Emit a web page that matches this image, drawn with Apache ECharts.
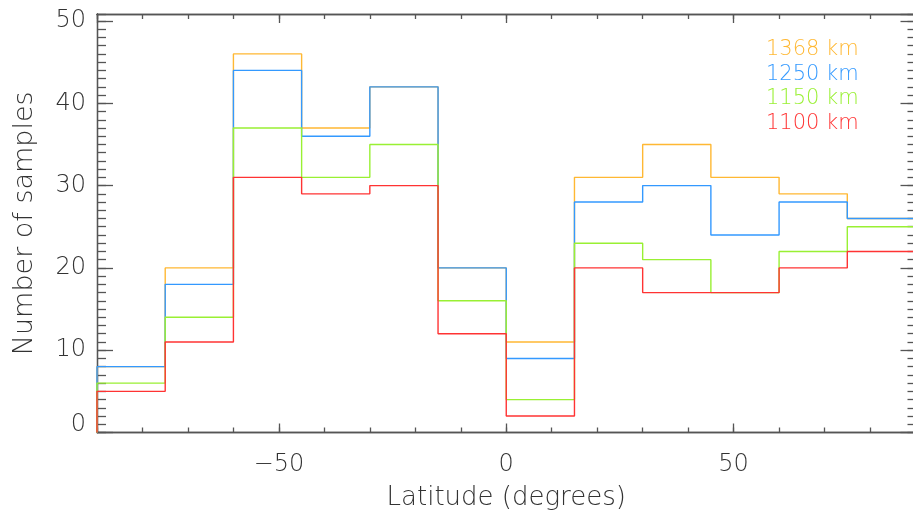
<!DOCTYPE html>
<html>
<head>
<meta charset="utf-8">
<script src="https://cdn.jsdelivr.net/npm/echarts@6/dist/echarts.min.js"></script>
<style>
html,body{margin:0;padding:0;background:#fff;}
#chart{width:913px;height:513px;}
</style>
</head>
<body>
<div id="chart"></div>
<script>
// Bin edges (latitude, degrees)
const binEdges = [-90, -75, -60, -45, -30, -15, 0, 15, 30, 45, 60, 75, 90];
// Counts per bin for each altitude
const counts1368 = [8, 20, 46, 37, 42, 20, 11, 31, 35, 31, 29, 26];
const counts1250 = [8, 18, 44, 36, 42, 20, 9, 28, 30, 24, 28, 26];
const counts1150 = [6, 14, 37, 31, 35, 16, 4, 23, 21, 17, 22, 25];
const counts1100 = [5, 11, 31, 29, 30, 12, 2, 20, 17, 17, 20, 22];
const seriesNames = ['1368 km', '1250 km', '1150 km', '1100 km'];
const seriesColors = ['#FFB833', '#3399FF', '#99F033', '#FF3333'];
// Tick steps
const xMajorStep = 50, xMinorStep = 10;
const yMajorStep = 10, yMinorStep = 1;

const allCounts = [counts1368, counts1250, counts1150, counts1100];

function stepData(counts) {
  const d = [[binEdges[0], 0]];
  for (let i = 0; i < counts.length; i++) d.push([binEdges[i], counts[i]]);
  d.push([binEdges[binEdges.length - 1], counts[counts.length - 1]]);
  d.push([binEdges[binEdges.length - 1], 0]);
  return d;
}

const FONT = 'DejaVu Sans';
const TXT = '#333';
const AX = '#555';
const XMIN = -90, XMAX = 90, YMIN = 0, YMAX = 50.85;

function xAxisCfg(pos, major, showLabel, tickLen) {
  const a = {
    type: 'value', position: pos, min: XMIN, max: XMAX,
    axisLine: {show: true, onZero: false, lineStyle: {color: AX, width: 1.3}},
    axisTick: {show: true, inside: true, length: tickLen, lineStyle: {color: AX, width: 1.3}},
    axisLabel: {show: showLabel, margin: 20, fontFamily: FONT, fontWeight: 200,
      fontSize: 24, color: TXT, showMinLabel: false, showMaxLabel: false,
      formatter: v => String(v).replace('-', '\u2212')},
    splitLine: {show: false}
  };
  if (major) { a.minInterval = xMajorStep; a.maxInterval = xMajorStep; a.splitNumber = 4; }
  else { a.interval = xMinorStep; }
  return a;
}
function yAxisCfg(pos, major, showLabel, tickLen) {
  return {
    type: 'value', position: pos, min: YMIN, max: YMAX,
    interval: major ? yMajorStep : yMinorStep,
    axisLine: {show: true, onZero: false, lineStyle: {color: AX, width: 1.3}},
    axisTick: {show: true, inside: true, length: tickLen, lineStyle: {color: AX, width: 1.3}},
    axisLabel: {show: showLabel, margin: 11, fontFamily: FONT, fontWeight: 200,
      fontSize: 24, color: TXT, showMaxLabel: false, showMinLabel: true,
      formatter: v => (v === 0 ? '{z|0}' : String(v)),
      rich: {z: {fontFamily: FONT, fontWeight: 200, fontSize: 24, color: TXT, padding: [0, 0, 15, 0]}}},
    splitLine: {show: false}
  };
}

const xAxes = [xAxisCfg('bottom', true, true, 9), xAxisCfg('bottom', false, false, 5),
               xAxisCfg('top', true, false, 9), xAxisCfg('top', false, false, 5)];
xAxes[0].name = 'Latitude (degrees)';
xAxes[0].nameLocation = 'middle';
xAxes[0].nameGap = 53;
xAxes[0].nameTextStyle = {fontFamily: FONT, fontWeight: 200, fontSize: 26, color: TXT};
const yAxes = [yAxisCfg('left', true, true, 16), yAxisCfg('left', false, false, 9),
               yAxisCfg('right', true, false, 15), yAxisCfg('right', false, false, 8)];
yAxes[0].name = 'Number of samples';
yAxes[0].nameLocation = 'middle';
yAxes[0].nameGap = 59;
yAxes[0].nameTextStyle = {fontFamily: FONT, fontWeight: 200, fontSize: 27, color: TXT};

const series = allCounts.map((c, i) => ({
  name: seriesNames[i], type: 'line', step: 'end', data: stepData(c),
  xAxisIndex: 0, yAxisIndex: 0, symbol: 'none', silent: true, animation: false,
  lineStyle: {color: seriesColors[i], width: 1.4}, z: 2 + i
}));

const chart = echarts.init(document.getElementById('chart'), null, {renderer: 'canvas'});
chart.setOption({
  backgroundColor: '#fff',
  animation: false,
  grid: {left: 97, right: -2.5, top: 14, bottom: 80.5, containLabel: false, outerBoundsMode: 'none'},
  xAxis: xAxes,
  yAxis: yAxes,
  graphic: seriesNames.map((n, i) => ({
    type: 'text', left: 766, top: 39 + i * 24.7,
    style: {text: n, fill: seriesColors[i], font: '200 21px "DejaVu Sans"'}
  })),
  series: series
});
</script>
</body>
</html>
